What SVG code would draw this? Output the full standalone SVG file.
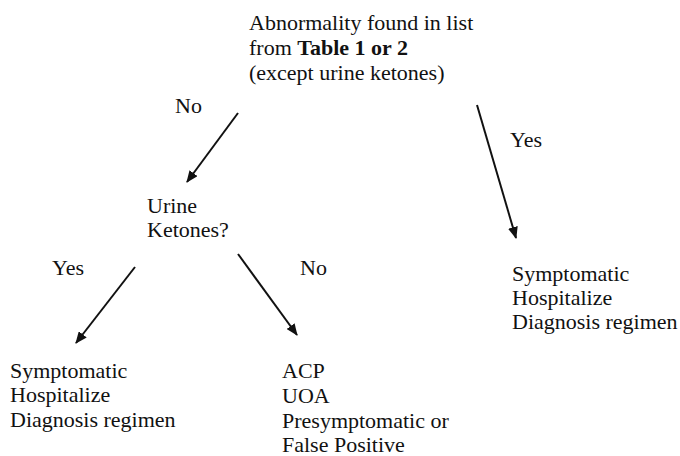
<svg xmlns="http://www.w3.org/2000/svg" width="680" height="456" viewBox="0 0 680 456">
<style>
text{font-family:'Liberation Serif','Times New Roman','DejaVu Serif',serif;font-size:22px;fill:#111}
.b{font-weight:bold}
.c{stroke:#111;stroke-width:2;fill:none;marker-end:url(#ah)}
</style>
<defs>
<marker id="ah" viewBox="0 0 12 10" refX="11" refY="5" markerWidth="12" markerHeight="10" markerUnits="userSpaceOnUse" orient="auto">
<path d="M0,0 L12,5 L0,10 Z" fill="#111"/>
</marker>
</defs>
<rect width="680" height="456" fill="#fff"/>
<g id="start" font-family="Liberation Serif, serif">
<text x="249" y="30">Abnormality found in list</text>
<text x="249" y="55">from <tspan class="b">Table 1 or 2</tspan></text>
<text x="249" y="80">(except urine ketones)</text>
</g>
<g id="urine">
<text x="147" y="213">Urine</text>
<text x="147" y="237">Ketones?</text>
</g>
<g id="sympRight">
<text x="512" y="281">Symptomatic</text>
<text x="512" y="305">Hospitalize</text>
<text x="512" y="329">Diagnosis regimen</text>
</g>
<g id="sympLeft">
<text x="10" y="378">Symptomatic</text>
<text x="10" y="402">Hospitalize</text>
<text x="10" y="427">Diagnosis regimen</text>
</g>
<g id="acp">
<text x="282" y="378">ACP</text>
<text x="282" y="403">UOA</text>
<text x="282" y="428">Presymptomatic or</text>
<text x="282" y="452">False Positive</text>
</g>
<g id="connectors">
<line class="c" x1="238" y1="113" x2="187" y2="182"/>
<line class="c" x1="477" y1="105" x2="516" y2="238"/>
<line class="c" x1="135" y1="267" x2="76" y2="343"/>
<line class="c" x1="238" y1="254" x2="297" y2="335"/>
<text x="175" y="113">No</text>
<text x="510" y="147">Yes</text>
<text x="52" y="275">Yes</text>
<text x="300" y="275">No</text>
</g>
</svg>
